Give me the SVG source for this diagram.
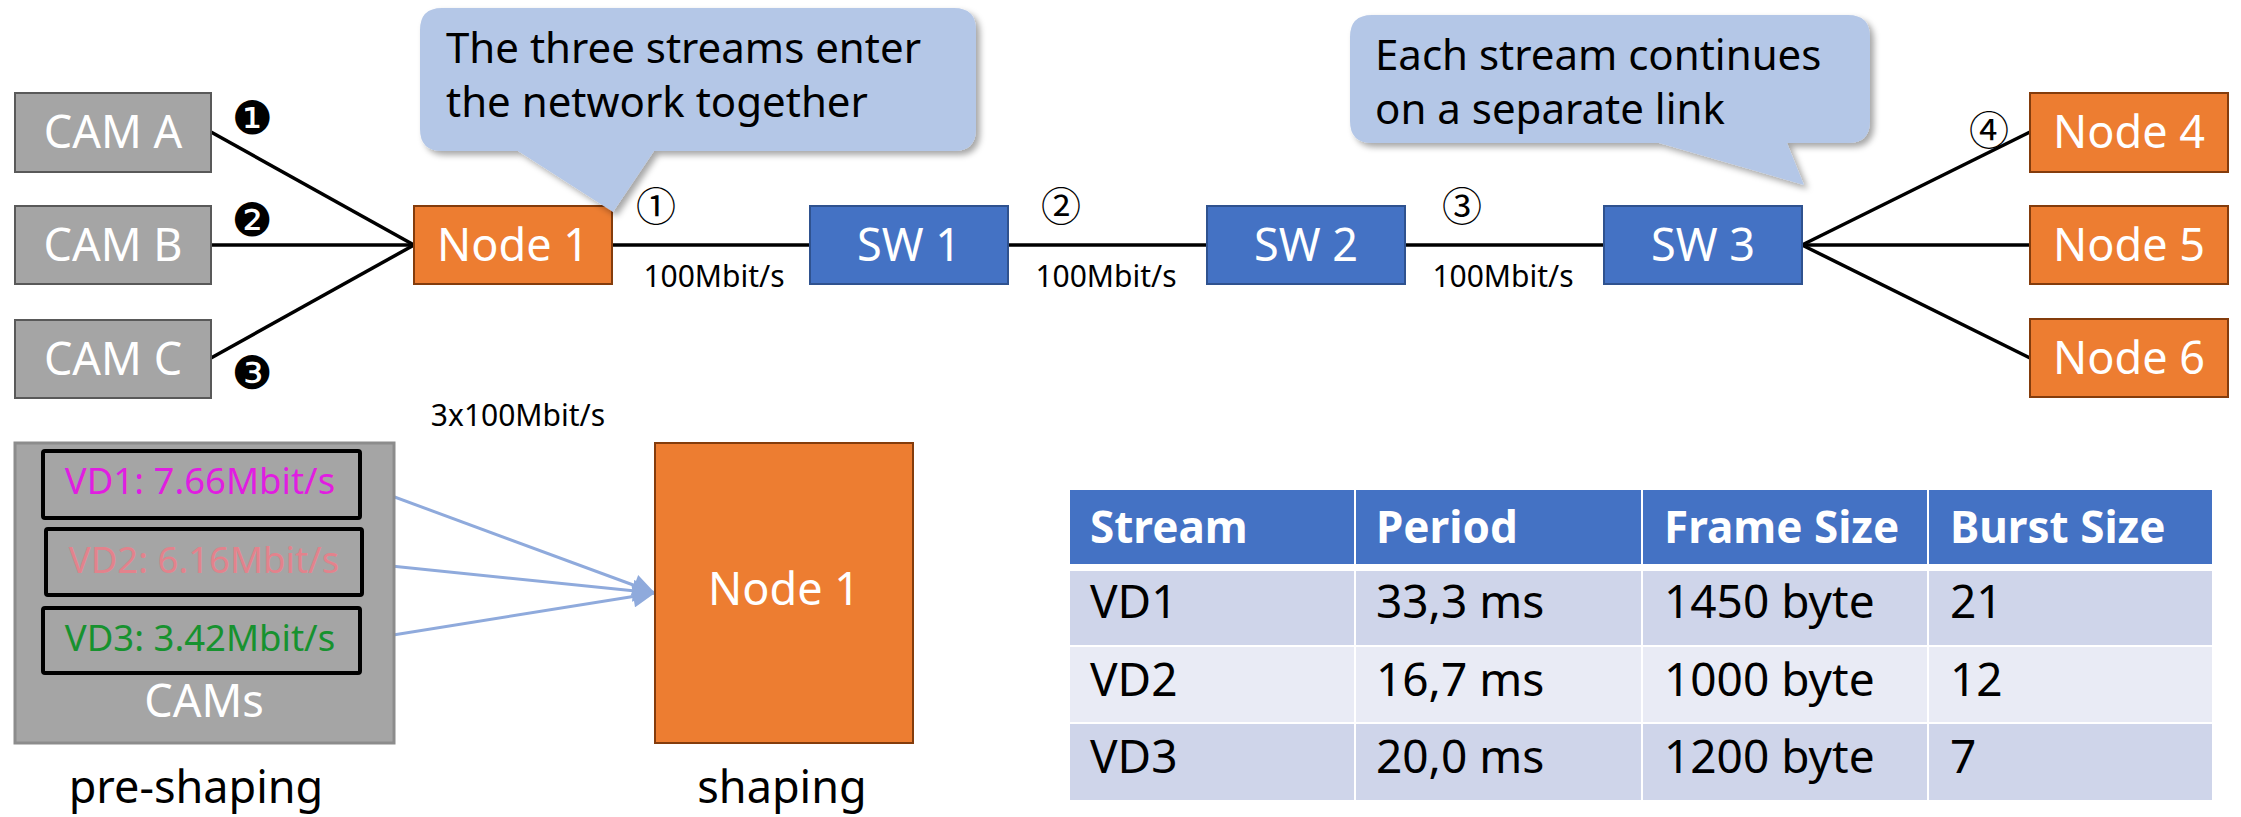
<svg xmlns="http://www.w3.org/2000/svg" width="2241" height="817" viewBox="0 0 2241 817">
  <defs>
    <style>
      text { font-family: "Noto Sans", "Open Sans", "DejaVu Sans", sans-serif; }
      .cam { fill: #a5a5a5; stroke: #595959; stroke-width: 2; }
      .node { fill: #ed7d31; stroke: #843c0c; stroke-width: 2; }
      .sw { fill: #4472c4; stroke: #2f528f; stroke-width: 2; }
      .lbl { fill: #ffffff; font-size: 45px; text-anchor: middle; }
      .link { stroke: #000000; stroke-width: 3.5; fill: none; }
      .rate { font-size: 30px; fill: #000000; text-anchor: middle; }
      .num { font-family: "Noto Sans CJK JP", "DejaVu Sans", sans-serif; font-size: 40px; fill: #000000; text-anchor: middle; dominant-baseline: central; }
      .dnum { font-family: "DejaVu Sans", "Noto Sans CJK JP", sans-serif; font-size: 46px; fill: #000000; text-anchor: middle; dominant-baseline: central; }
      .callout { fill: #b4c7e7; filter: url(#shadow); }
      .ctext { font-size: 42px; fill: #000000; }
      .vd { fill: none; stroke: #000000; stroke-width: 4; }
      .vdt { font-size: 36.5px; text-anchor: middle; }
      .flow { stroke: #8faadc; stroke-width: 3; fill: none; marker-end: url(#arrow); }
      .cap { font-size: 45px; fill: #000000; text-anchor: middle; }
      .th { fill: #4472c4; }
      .odd { fill: #cfd5ea; }
      .even { fill: #e9ebf5; }
      .tht { font-size: 44px; font-weight: bold; fill: #ffffff; }
      .tdt { font-size: 46px; fill: #000000; }
    </style>
    <filter id="shadow" x="-10%" y="-10%" width="125%" height="130%">
      <feDropShadow dx="4" dy="4" stdDeviation="3" flood-color="#000000" flood-opacity="0.35"/>
    </filter>
    <marker id="arrow" viewBox="0 0 10 10" refX="10" refY="5" markerUnits="userSpaceOnUse" markerWidth="24" markerHeight="22" orient="auto">
      <path d="M0,0 L10,5 L0,10 Z" fill="#8faadc"/>
    </marker>
  </defs>

  <!-- links of the network -->
  <g id="connectors">
    <line class="link" x1="211" y1="132" x2="414" y2="245"/>
    <line class="link" x1="211" y1="245" x2="414" y2="245"/>
    <line class="link" x1="211" y1="358" x2="414" y2="245"/>
    <line class="link" x1="612" y1="245" x2="810" y2="245"/>
    <line class="link" x1="1008" y1="245" x2="1207" y2="245"/>
    <line class="link" x1="1405" y1="245" x2="1604" y2="245"/>
    <line class="link" x1="1802" y1="245" x2="2030" y2="132"/>
    <line class="link" x1="1802" y1="245" x2="2030" y2="245"/>
    <line class="link" x1="1802" y1="245" x2="2030" y2="358"/>
    <line class="flow" x1="362" y1="485" x2="655" y2="593"/>
    <line class="flow" x1="362" y1="563" x2="655" y2="593"/>
    <line class="flow" x1="362" y1="640" x2="655" y2="593"/>
  </g>

  <!-- link labels -->
  <g id="link-labels">
    <text class="dnum" x="252" y="118">❶</text>
    <text class="dnum" x="252" y="220">❷</text>
    <text class="dnum" x="252" y="373">❸</text>
    <text class="num" x="656" y="204">①</text>
    <text class="num" x="1061" y="204">②</text>
    <text class="num" x="1462" y="204">③</text>
    <text class="num" x="1989" y="128">④</text>
    <text class="rate" x="714" y="287">100Mbit/s</text>
    <text class="rate" x="1106" y="287">100Mbit/s</text>
    <text class="rate" x="1503" y="287">100Mbit/s</text>
    <text class="rate" x="518" y="426">3x100Mbit/s</text>
  </g>

  <!-- cameras -->
  <g id="cam-a"><rect class="cam" x="15" y="93" width="196" height="79"/><text class="lbl" x="113" y="148">CAM A</text></g>
  <g id="cam-b"><rect class="cam" x="15" y="206" width="196" height="78"/><text class="lbl" x="113" y="261">CAM B</text></g>
  <g id="cam-c"><rect class="cam" x="15" y="320" width="196" height="78"/><text class="lbl" x="113" y="375">CAM C</text></g>

  <!-- end nodes -->
  <g id="node-1"><rect class="node" x="414" y="206" width="198" height="78"/><text class="lbl" x="513" y="261">Node 1</text></g>
  <g id="node-4"><rect class="node" x="2030" y="93" width="198" height="79"/><text class="lbl" x="2129" y="148">Node 4</text></g>
  <g id="node-5"><rect class="node" x="2030" y="206" width="198" height="78"/><text class="lbl" x="2129" y="261">Node 5</text></g>
  <g id="node-6"><rect class="node" x="2030" y="319" width="198" height="78"/><text class="lbl" x="2129" y="374">Node 6</text></g>

  <!-- switches -->
  <g id="sw-1"><rect class="sw" x="810" y="206" width="198" height="78"/><text class="lbl" x="909" y="261">SW 1</text></g>
  <g id="sw-2"><rect class="sw" x="1207" y="206" width="198" height="78"/><text class="lbl" x="1306" y="261">SW 2</text></g>
  <g id="sw-3"><rect class="sw" x="1604" y="206" width="198" height="78"/><text class="lbl" x="1703" y="261">SW 3</text></g>

  <!-- speech bubbles -->
  <g id="callout-enter">
    <path class="callout" d="M442,8 H954 Q976,8 976,30 V129 Q976,151 954,151 H654 L613,212 L518,151 H442 Q420,151 420,129 V30 Q420,8 442,8 Z"/>
    <text class="ctext" x="446" y="63">The three streams enter</text>
    <text class="ctext" x="446" y="117">the network together</text>
  </g>
  <g id="callout-split">
    <path class="callout" d="M1372,15 H1848 Q1870,15 1870,37 V121 Q1870,143 1848,143 H1787 L1804,185 L1659,143 H1372 Q1350,143 1350,121 V37 Q1350,15 1372,15 Z"/>
    <text class="ctext" x="1375" y="70">Each stream continues</text>
    <text class="ctext" x="1375" y="124">on a separate link</text>
  </g>

  <!-- pre-shaping: the camera streams -->
  <g id="cams">
    <rect x="15" y="443" width="379" height="300" fill="#a5a5a5" stroke="#8c8c8c" stroke-width="3"/>
    <rect class="vd" x="43" y="451" width="317" height="67" rx="2"/>
    <rect class="vd" x="46" y="529" width="316" height="66" rx="2"/>
    <rect class="vd" x="43" y="608" width="317" height="65" rx="2"/>
    <text class="vdt" x="200" y="494" fill="#e01ee0">VD1: 7.66Mbit/s</text>
    <text class="vdt" x="204" y="573" fill="#e3828c">VD2: 6.16Mbit/s</text>
    <text class="vdt" x="200" y="651" fill="#17922f">VD3: 3.42Mbit/s</text>
    <text class="lbl" x="204" y="717" font-size="46">CAMs</text>
  </g>

  <!-- shaping node -->
  <g id="node-1-shaping">
    <rect class="node" x="655" y="443" width="258" height="300"/>
    <text class="lbl" x="784" y="605">Node 1</text>
  </g>

  <g id="captions">
    <text class="cap" x="196" y="803">pre-shaping</text>
    <text class="cap" x="782" y="803">shaping</text>
  </g>

  <!-- stream parameter table -->
  <g id="stream-table">
    <rect class="th" x="1070" y="490" width="284" height="74"/>
    <rect class="th" x="1356" y="490" width="285" height="74"/>
    <rect class="th" x="1643" y="490" width="284" height="74"/>
    <rect class="th" x="1929" y="490" width="283" height="74"/>
    <rect class="odd" x="1070" y="571" width="284" height="74"/>
    <rect class="odd" x="1356" y="571" width="285" height="74"/>
    <rect class="odd" x="1643" y="571" width="284" height="74"/>
    <rect class="odd" x="1929" y="571" width="283" height="74"/>
    <rect class="even" x="1070" y="647" width="284" height="75"/>
    <rect class="even" x="1356" y="647" width="285" height="75"/>
    <rect class="even" x="1643" y="647" width="284" height="75"/>
    <rect class="even" x="1929" y="647" width="283" height="75"/>
    <rect class="odd" x="1070" y="724" width="284" height="76"/>
    <rect class="odd" x="1356" y="724" width="285" height="76"/>
    <rect class="odd" x="1643" y="724" width="284" height="76"/>
    <rect class="odd" x="1929" y="724" width="283" height="76"/>

    <text class="tht" x="1090" y="543">Stream</text>
    <text class="tht" x="1376" y="543">Period</text>
    <text class="tht" x="1664" y="543">Frame Size</text>
    <text class="tht" x="1950" y="543">Burst Size</text>

    <text class="tdt" x="1090" y="618">VD1</text>
    <text class="tdt" x="1376" y="618">33,3 ms</text>
    <text class="tdt" x="1664" y="618">1450 byte</text>
    <text class="tdt" x="1950" y="618">21</text>

    <text class="tdt" x="1090" y="696">VD2</text>
    <text class="tdt" x="1376" y="696">16,7 ms</text>
    <text class="tdt" x="1664" y="696">1000 byte</text>
    <text class="tdt" x="1950" y="696">12</text>

    <text class="tdt" x="1090" y="773">VD3</text>
    <text class="tdt" x="1376" y="773">20,0 ms</text>
    <text class="tdt" x="1664" y="773">1200 byte</text>
    <text class="tdt" x="1950" y="773">7</text>
  </g>
</svg>
